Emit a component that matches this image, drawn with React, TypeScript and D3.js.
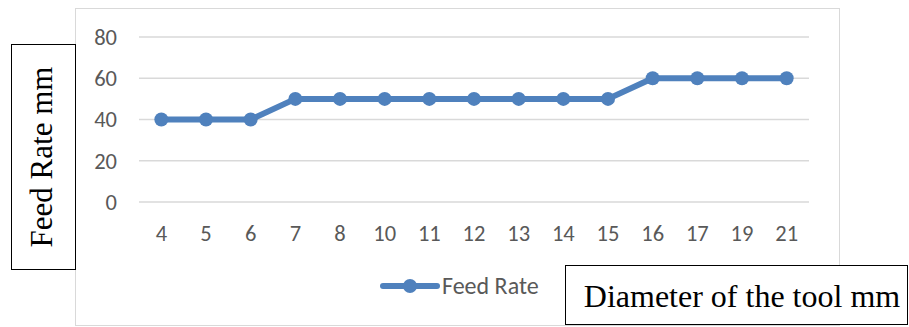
import React from "react";
import * as d3 from "d3";

const categories = ["4", "5", "6", "7", "8", "10", "11", "12", "13", "14", "15", "16", "17", "19", "21"];
const feedRate = [40, 40, 40, 50, 50, 50, 50, 50, 50, 50, 50, 60, 60, 60, 60];
const yTicks = [0, 20, 40, 60, 80];
const seriesName = "Feed Rate";
const yTitle = "Feed Rate mm";
const xTitle = "Diameter of the tool mm";

const W = 909;
const H = 327;
const color = "#4f81bd";
const sans = "Carlito, Calibri, 'Liberation Sans', 'Open Sans', sans-serif";
const serif = "'Liberation Serif', 'Times New Roman', serif";

export default function App() {
  const x = d3.scaleBand<string>().domain(categories).range([139, 809]);
  const y = d3.scaleLinear().domain([0, 80]).range([202, 37]);
  const cx = (i: number) => (x(categories[i]) as number) + x.bandwidth() / 2;
  const line = d3
    .line<number>()
    .x((_, i) => cx(i))
    .y((d) => y(d));

  return (
    <svg
      width={W}
      height={H}
      style={{ position: "absolute", left: 0, top: 0, background: "#fff" }}
    >
      <rect x={75.5} y={8.5} width={764} height={317} fill="#fff" stroke="#d9d9d9" strokeWidth={1} />
      {yTicks.map((t) => (
        <g key={t}>
          <line x1={139} x2={809} y1={y(t)} y2={y(t)} stroke="#d9d9d9" strokeWidth={1.3} />
          <text x={117} y={y(t)} dy="0.35em" textAnchor="end" fontSize={22.5} fill="#595959" fontFamily={sans}>
            {t}
          </text>
        </g>
      ))}
      {categories.map((c, i) => (
        <text
          key={c}
          x={cx(i)}
          y={233}
          dy="0.35em"
          textAnchor="middle"
          fontSize={22.5}
          fill="#595959"
          fontFamily={sans}
        >
          {c}
        </text>
      ))}
      <path d={line(feedRate) || ""} fill="none" stroke={color} strokeWidth={6} strokeLinejoin="round" />
      {feedRate.map((v, i) => (
        <circle key={i} cx={cx(i)} cy={y(v)} r={7} fill={color} />
      ))}
      {/* legend */}
      <line x1={383} x2={437} y1={286} y2={286} stroke={color} strokeWidth={6} strokeLinecap="round" />
      <circle cx={410} cy={286} r={7} fill={color} />
      <text x={442} y={286} dy="0.35em" fontSize={24} fill="#595959" fontFamily={sans}>
        {seriesName}
      </text>
      {/* y title box */}
      <rect x={11.5} y={44.5} width={64} height={225} fill="#fff" stroke="#000" strokeWidth={1} />
      <text
        transform={`translate(52,157) rotate(-90)`}
        textAnchor="middle"
        fontSize={31}
        fill="#000"
        fontFamily={serif}
      >
        {yTitle}
      </text>
      {/* x title box */}
      <rect x={565.5} y={265.5} width={342} height={59} fill="#fff" stroke="#000" strokeWidth={1} />
      <text x={742} y={296} dy="0.35em" textAnchor="middle" fontSize={32} fill="#000" fontFamily={serif}>
        {xTitle}
      </text>
    </svg>
  );
}
